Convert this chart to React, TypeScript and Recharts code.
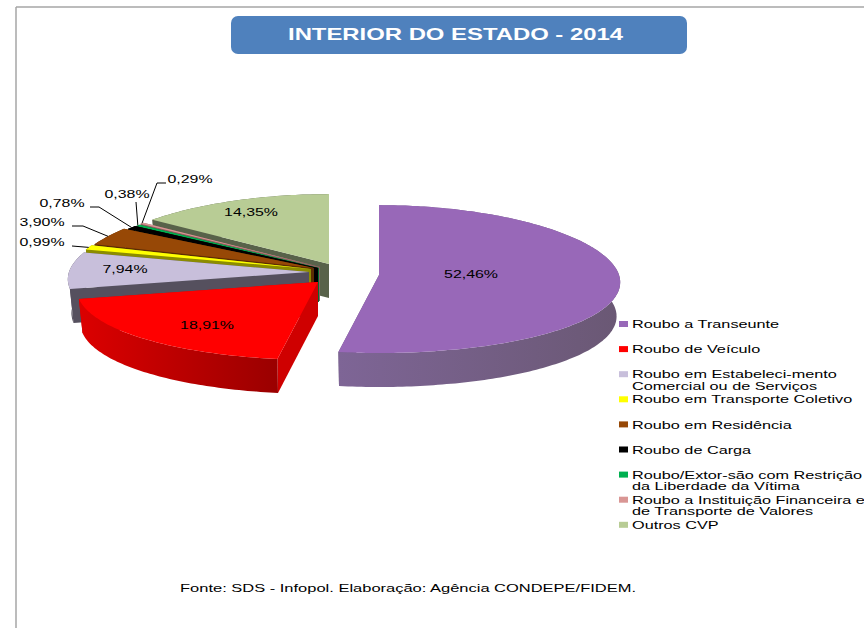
import { PieChart, Pie, Legend } from 'recharts';

const categories = [
    'Roubo a Transeunte',
    'Roubo de Veículo',
    'Roubo em Estabeleci-mento\nComercial ou de Serviços',
    'Roubo em Transporte Coletivo',
    'Roubo em Residência',
    'Roubo de Carga',
    'Roubo/Extor-são com Restrição\nda Liberdade da Vítima',
    'Roubo a Instituição Financeira e\nde Transporte de Valores',
    'Outros CVP',
];
const shares = [52.46, 18.91, 7.94, 0.99, 3.9, 0.78, 0.38, 0.29, 14.35];
const topColors = ['#9868b8', '#ff0000', '#c8bfdb', '#ffff00', '#974806', '#000000', '#00b050', '#d99694', '#b8cc95'];
const sideColors = ['#6c5a7c', '#cf0000', '#55505e', '#8c8c00', '#5c2c04', '#000000', '#006c30', '#8c5f5e', '#58624a'];
const wallLeft = ['#7e6596', '#dc0000', '#55505e', '#8c8c00', '#5c2c04', '#000000', '#006c30', '#8c5f5e', '#58624a'];
const wallRight = ['#6a5874', '#9a0000', '#55505e', '#8c8c00', '#5c2c04', '#000000', '#006c30', '#8c5f5e', '#58624a'];

// how far each slice is pulled out of the pie
const explodeX = [49, -12, -21, -19, -16, -12, -11, -10, -1];
const explodeY = [5, 12, 2, -1, -2, -2, -2, -3, -6];

// label anchors: text centre, then optional elbow of the leader line
const labelSpots: number[][] = [
    [471, 274],
    [207, 325],
    [125, 269],
    [42, 242, 72, 246],
    [42, 222, 83, 226],
    [62, 203, 99, 207],
    [127, 194, 136, 202],
    [190, 179, 157, 183],
    [251, 212],
];
const leaderStart: number[] = [0, 0, 0, 72, 72, 90, 136, 166, 0];

const CX = 330;
const CY = 270;
const RX = 240;
const TILT = 0.308;
const FRONT = 0.055;
const PERSP = 0.1;
const DEPTH = 34;
const FONT = "'Liberation Sans', Arial, sans-serif";

const table = categories.map((name, i) => ({ name, value: shares[i], fill: topColors[i] })).reverse();

function point(ax: number, ay: number, r: number, clock: number, drop = 0) {
    const t = (clock * Math.PI) / 180;
    const c = Math.cos(t);
    const k = drop ? 0.985 : 1;
    return {
        x: ax + r * k * Math.sin(t) * (1 - PERSP * c),
        y: ay - r * TILT * c * (1 - FRONT * c) + drop,
    };
}

function arc(ax: number, ay: number, r: number, from: number, to: number, drop = 0) {
    const pts = [];
    const steps = Math.max(2, Math.ceil(Math.abs(to - from)));
    for (let i = 0; i <= steps; i++) {
        pts.push(point(ax, ay, r, from + ((to - from) * i) / steps, drop));
    }
    return pts;
}

const toPath = (pts: { x: number; y: number }[]) =>
    'M' + pts.map((p) => p.x.toFixed(1) + ' ' + p.y.toFixed(1)).join('L') + 'Z';

function Slice3D(props: any) {
    const { cx, cy, outerRadius, startAngle, endAngle, name } = props;
    const i = categories.indexOf(name);
    const ax = cx + explodeX[i];
    const ay = cy + explodeY[i];
    // recharts angles run counter-clockwise from 3 o'clock
    const a = 90 - endAngle;
    const b = 90 - startAngle;
    const from = Math.min(a, b);
    const to = Math.max(a, b);
    const rim = arc(ax, ay, outerRadius, from, to);
    const rimLow = arc(ax, ay, outerRadius, to, from, DEPTH);
    const apex = { x: ax, y: ay };
    const apexLow = { x: ax, y: ay + DEPTH };
    const wall = (clock: number) =>
        toPath([apex, point(ax, ay, outerRadius, clock), point(ax, ay, outerRadius, clock, DEPTH), apexLow]);
    const id = 'side' + i;
    return (
        <g>
            <defs>
                <linearGradient id={id} x1='0' x2='1' y1='0' y2='0'>
                    <stop offset='0%' stopColor={wallLeft[i]} />
                    <stop offset='100%' stopColor={wallRight[i]} />
                </linearGradient>
            </defs>
            <path d={wall(from)} fill={sideColors[i]} />
            <path d={wall(to)} fill={sideColors[i]} />
            <path d={toPath([...rim, ...rimLow])} fill={`url(#${id})`} />
            <path d={toPath([apex, ...rim])} fill={props.fill} />
        </g>
    );
}

function WideText({ x, y, children, anchor = 'start', size = 11.6, stretch = 1.37 }: any) {
    return (
        <text
            transform={`translate(${x} ${y}) scale(${stretch} 1)`}
            textAnchor={anchor}
            dominantBaseline='central'
            fontFamily={FONT}
            fontSize={size}
            fill='#000'
        >
            {children}
        </text>
    );
}

function SliceLabel(props: any) {
    const { cx, cy, outerRadius, midAngle, name, value } = props;
    const i = categories.indexOf(name);
    const spot = labelSpots[i];
    const text = value.toFixed(2).replace('.', ',') + '%';
    let leader = null;
    if (spot.length > 2) {
        const tip = point(cx + explodeX[i], cy + explodeY[i], outerRadius, 90 - midAngle);
        leader = (
            <polyline
                points={`${leaderStart[i]},${spot[3]} ${spot[2]},${spot[3]} ${tip.x},${tip.y}`}
                fill='none'
                stroke='#000'
                strokeWidth={1}
            />
        );
    }
    return (
        <g>
            {leader}
            <WideText x={spot[0]} y={spot[1]} anchor='middle'>
                {text}
            </WideText>
        </g>
    );
}

function LegendBox({ payload }: any) {
    const rows = [...(payload || [])].reverse();
    return (
        <svg width={250} height={240} style={{ display: 'block' }}>
            {rows.map((row: any, i: number) => {
                const lines = String(row.value).split('\n');
                const y = 12 + i * 25.1;
                return (
                    <g key={row.value}>
                        <rect x={5} y={y - 3} width={9} height={6} fill={row.color} />
                        {lines.map((line, j) => (
                            <WideText key={line} x={18} y={y + j * 11.5} stretch={1.4}>
                                {line}
                            </WideText>
                        ))}
                    </g>
                );
            })}
        </svg>
    );
}

export default function App() {
    return (
        <div style={{ position: 'absolute', left: 0, top: 0, width: 864, height: 628, background: '#fff' }}>
            <PieChart width={864} height={628} margin={{ top: 0, right: 0, bottom: 0, left: 0 }}>
                <line x1={16} y1={7} x2={864} y2={7} stroke='#a6a6a6' strokeWidth={1.5} />
                <line x1={16} y1={7} x2={16} y2={628} stroke='#a6a6a6' strokeWidth={1.5} />
                <rect x={231} y={16} width={456} height={38} rx={7} fill='#4f81bd' />
                <text
                    x={288}
                    y={34}
                    textLength={335}
                    lengthAdjust='spacingAndGlyphs'
                    dominantBaseline='central'
                    fontFamily={FONT}
                    fontWeight='bold'
                    fontSize={16.3}
                    fill='#fff'
                >
                    INTERIOR DO ESTADO - 2014
                </text>
                <Pie
                    data={table}
                    dataKey='value'
                    nameKey='name'
                    cx={CX}
                    cy={CY}
                    innerRadius={0}
                    outerRadius={RX}
                    startAngle={90}
                    endAngle={450}
                    stroke='none'
                    shape={Slice3D}
                    label={SliceLabel}
                    labelLine={false}
                    isAnimationActive={false}
                />
                <text
                    x={180}
                    y={587}
                    textLength={456}
                    lengthAdjust='spacingAndGlyphs'
                    dominantBaseline='central'
                    fontFamily={FONT}
                    fontSize={11.6}
                    fill='#000'
                >
                    Fonte: SDS - Infopol.  Elaboração: Agência CONDEPE/FIDEM.
                </text>
                <Legend
                    layout='vertical'
                    content={<LegendBox />}
                    itemSorter={null}
                    wrapperStyle={{ left: 614, top: 312, width: 250, right: 'auto', bottom: 'auto' }}
                />
            </PieChart>
        </div>
    );
}
